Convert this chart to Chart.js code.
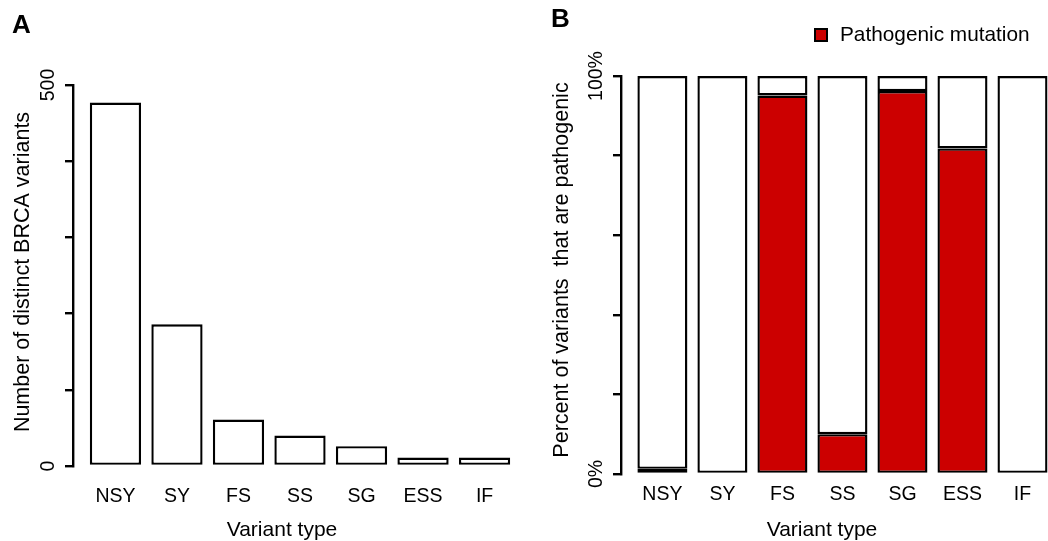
<!DOCTYPE html>
<html>
<head>
<meta charset="utf-8">
<title>BRCA variant types</title>
<script src="https://cdn.jsdelivr.net/npm/chart.js@4.4.1/dist/chart.umd.min.js"></script>
<style>
  html, body { margin: 0; padding: 0; background: #fff; }
  #wrap { position: relative; width: 1048px; height: 541px; overflow: hidden; }
  #wrap canvas { position: absolute; top: 0; }
</style>
</head>
<body>
<div id="wrap">
  <canvas id="countChart" width="530" height="541" style="left:0"></canvas>
  <canvas id="pathoChart" width="518" height="541" style="left:530px"></canvas>
</div>
<script>
// data
const variantTypes = ['NSY', 'SY', 'FS', 'SS', 'SG', 'ESS', 'IF'];
const variantCounts = [477, 186, 61, 40, 26, 11, 11];
const pathogenicPct = [1.3, 0, 95.1, 10, 96.2, 81.8, 0];
const countTicks = { 0: '0', 500: '500' };
const pctTicks = { 0: '0%', 100: '100%' };

const FONT = '"Liberation Sans", Arial, Helvetica, sans-serif';
const RED = '#cc0000';
const LW = 2.4;
const TICK_SIZE = 19.5;

// bars sit like R's barplot: width 1, gap 0.2
const barX = i => 0.7 + 1.2 * i;

const labelPlugin = {
  id: 'labels',
  afterDraw(chart, args, o) {
    const { ctx, chartArea } = chart;
    const y = chart.scales.y;
    ctx.save();
    ctx.fillStyle = '#000';

    // y tick labels, turned like R does
    ctx.font = `${TICK_SIZE}px ${FONT}`;
    ctx.textAlign = 'center';
    ctx.textBaseline = 'middle';
    y.ticks.forEach((t, i) => {
      if (!t.label) return;
      ctx.save();
      ctx.translate(chartArea.left - 24, y.getPixelForTick(i));
      ctx.rotate(-Math.PI / 2);
      ctx.fillText(t.label, 0, 0);
      ctx.restore();
    });

    ctx.font = `21.5px ${FONT}`;
    ctx.textBaseline = 'alphabetic';
    ctx.save();
    ctx.translate(o.yTitleX, o.yTitleY);
    ctx.rotate(-Math.PI / 2);
    ctx.fillText(o.yTitle, 0, 0);
    ctx.restore();

    ctx.font = `21px ${FONT}`;
    ctx.fillText(o.xTitle, o.xTitleX, 536);

    ctx.font = `bold 26px ${FONT}`;
    ctx.textAlign = 'left';
    ctx.fillText(o.letter, o.letterX, o.letterY);

    if (o.legend) {
      const ds = chart.data.datasets[0];
      ctx.fillStyle = ds.backgroundColor;
      ctx.fillRect(o.legend.x, o.legend.y, 12, 12);
      ctx.strokeStyle = '#000';
      ctx.lineWidth = 2;
      ctx.strokeRect(o.legend.x, o.legend.y, 12, 12);
      ctx.fillStyle = '#000';
      ctx.font = `20.8px ${FONT}`;
      ctx.textBaseline = 'middle';
      ctx.fillText(ds.label, o.legend.x + 25, o.legend.y + 6.5);
    }
    ctx.restore();
  }
};

function xScale(max, height, pad) {
  return {
    type: 'linear',
    min: -0.128,
    max: max,
    offset: false,
    stacked: true,
    afterBuildTicks: s => { s.ticks = variantTypes.map((_, i) => ({ value: barX(i) })); },
    afterFit: s => { s.height = height; },
    ticks: {
      callback: (v, i) => variantTypes[i],
      autoSkip: false,
      maxRotation: 0,
      padding: pad,
      color: '#000',
      font: { family: FONT, size: TICK_SIZE }
    },
    grid: { display: false, offset: false },
    border: { display: false }
  };
}

function yScale(max, step, labels, width) {
  return {
    min: 0,
    max: max,
    stacked: true,
    afterFit: s => { s.width = width; },
    ticks: {
      stepSize: step,
      display: false,
      callback: v => labels[v] || ''
    },
    grid: { drawOnChartArea: false, drawTicks: true, tickLength: 8, color: '#000', lineWidth: LW },
    border: { display: true, color: '#000', width: LW }
  };
}

const barStyle = {
  borderColor: '#000',
  borderWidth: LW,
  borderSkipped: false,
  categoryPercentage: 1 / 1.2,
  barPercentage: 1
};

new Chart(document.getElementById('countChart'), {
  type: 'bar',
  data: {
    datasets: [{
      label: 'Number of distinct BRCA variants',
      data: variantCounts.map((v, i) => ({ x: barX(i), y: v })),
      backgroundColor: '#fff',
      ...barStyle
    }]
  },
  options: {
    responsive: false,
    animation: false,
    events: [],
    layout: { padding: { top: 85, right: 3, left: 0, bottom: 0 } },
    scales: {
      x: xScale(8.728, 75, 11),
      y: yScale(500, 100, countTicks, 73)
    },
    plugins: {
      legend: { display: false },
      tooltip: { enabled: false },
      labels: {
        yTitle: 'Number of distinct BRCA variants', yTitleX: 29, yTitleY: 272,
        xTitle: 'Variant type', xTitleX: 282,
        letter: 'A', letterX: 12, letterY: 33
      }
    }
  },
  plugins: [labelPlugin]
});

new Chart(document.getElementById('pathoChart'), {
  type: 'bar',
  data: {
    datasets: [{
      label: 'Pathogenic mutation',
      data: pathogenicPct.map((v, i) => ({ x: barX(i), y: v })),
      backgroundColor: RED,
      ...barStyle
    }, {
      label: 'Other',
      data: pathogenicPct.map((v, i) => ({ x: barX(i), y: 100 - v })),
      backgroundColor: '#fff',
      ...barStyle
    }]
  },
  options: {
    responsive: false,
    animation: false,
    events: [],
    layout: { padding: { top: 76, right: 0, left: 0, bottom: 0 } },
    scales: {
      x: xScale(8.41, 67, 1),
      y: yScale(100, 20, pctTicks, 91)
    },
    plugins: {
      legend: { display: false },
      tooltip: { enabled: false },
      labels: {
        yTitle: 'Percent of variants  that are pathogenic', yTitleX: 38, yTitleY: 270,
        xTitle: 'Variant type', xTitleX: 292,
        letter: 'B', letterX: 21, letterY: 27,
        legend: { x: 285, y: 29 }
      }
    }
  },
  plugins: [labelPlugin]
});
</script>
</body>
</html>
